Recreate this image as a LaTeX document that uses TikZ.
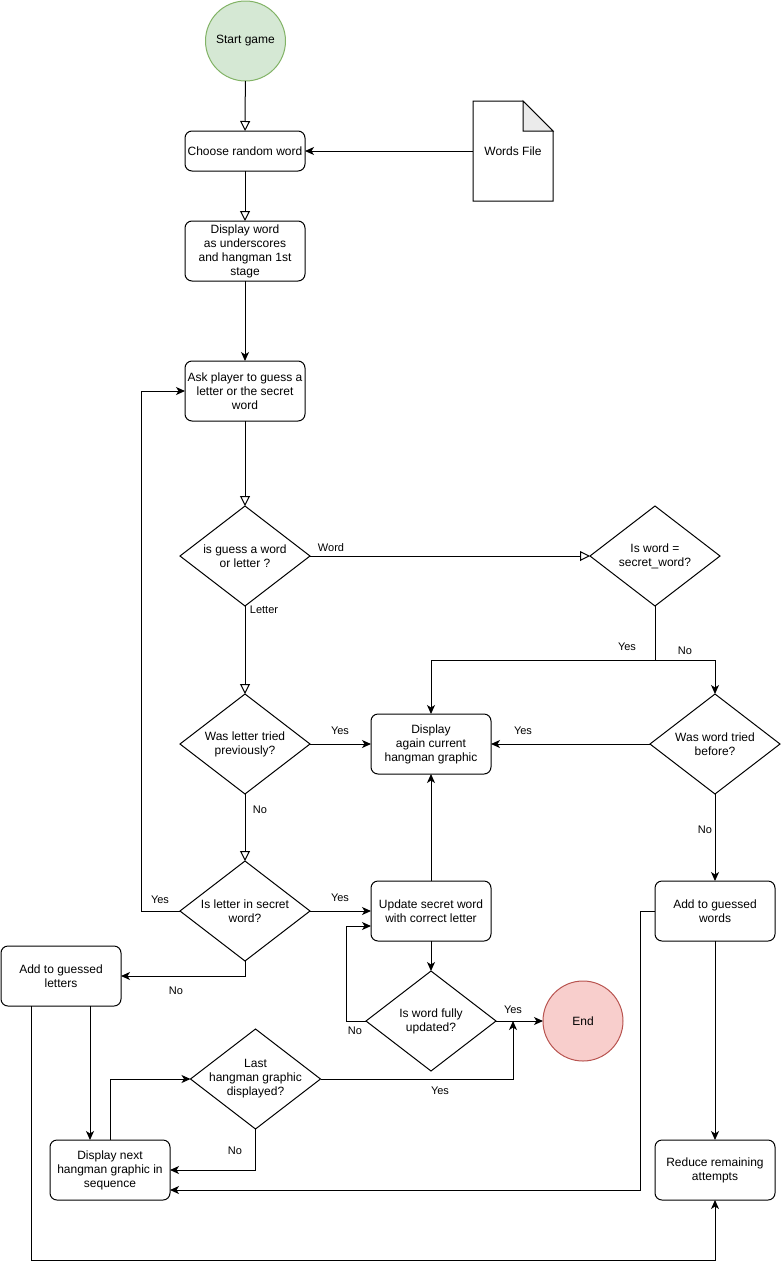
\documentclass[tikz,border=0pt]{standalone}
\usepackage{fontspec}
\setmainfont{Liberation Sans}
\usetikzlibrary{arrows.meta}
\definecolor{startfill}{HTML}{D5E8D4}
\definecolor{startdraw}{HTML}{82B366}
\definecolor{endfill}{HTML}{F8CECC}
\definecolor{enddraw}{HTML}{B85450}
\definecolor{foldfill}{HTML}{EBEBEB}
\begin{document}
\begin{tikzpicture}[x=1pt,y=-1pt,
  every node/.style={font=\fontsize{12}{14}\selectfont, inner sep=1pt},
  process/.style={draw, line width=1pt, rounded corners=7pt, minimum width=120pt,
    minimum height=60pt, align=center, outer sep=0pt},
  decision/.style={rectangle, minimum width=130pt, minimum height=100pt,
    align=center, outer sep=0pt},
  docbox/.style={rectangle, minimum width=80pt, minimum height=100pt, outer sep=0pt},
  startnode/.style={circle, draw=startdraw, fill=startfill, line width=1pt,
    minimum size=80pt, outer sep=0pt},
  endnode/.style={circle, draw=enddraw, fill=endfill, line width=1pt,
    minimum size=80pt, outer sep=0pt},
  lbl/.style={font=\fontsize{11}{13}\selectfont, inner sep=0pt},
  line/.style={line width=1pt},
  flow/.style={line width=1pt, -{Stealth[length=9pt,width=8pt,inset=2.5pt]}},
  openflow/.style={line width=1pt, -{Triangle[open,length=10pt,width=10pt]}}
]
\useasboundingbox (0,0) rectangle (781,1269);

% ---- nodes ----
\node[startnode] (start) at (245.5,41) {Start game};
\node[process, minimum height=40pt] (choose) at (245,151) {Choose random word};
\node[docbox] (file) at (513,151) {Words File};
\node[process] (show) at (245,251) {Display word\\as underscores\\and hangman 1st\\stage};
\node[process] (ask) at (245,391) {Ask player to guess a\\letter or the secret\\word};
\node[decision] (d1) at (245,556) {is guess a word\\or letter ?};
\node[decision] (d2) at (655,556) {Is word =\\secret\_word?};
\node[decision] (d3) at (245,744) {Was letter tried\\previously?};
\node[process] (again) at (431,744) {Display\\again current\\hangman graphic};
\node[decision] (d4) at (715,744) {Was word tried\\before?};
\node[decision] (d5) at (245,911) {Is letter in secret\\word?};
\node[process] (upd) at (431,911) {Update secret word\\with correct letter};
\node[process] (words) at (715,911) {Add to guessed\\words};
\node[process] (letters) at (61,976) {Add to guessed\\letters};
\node[decision] (d6) at (431,1021) {Is word fully\\updated?};
\node[endnode] (end) at (583,1021) {End};
\node[decision] (d7) at (255.5,1079) {Last\\hangman graphic\\displayed?};
\node[process] (next) at (110,1170) {Display next\\hangman graphic in\\sequence};
\node[process] (reduce) at (715,1170) {Reduce remaining\\attempts};

% document outline with folded corner
\draw[line] (file.north west) -- ([xshift=-30pt]file.north east)
  -- ([yshift=-30pt]file.north east) -- (file.south east) -- (file.south west) -- cycle;
\draw[line, fill=foldfill] ([xshift=-30pt]file.north east)
  -- ([xshift=-30pt,yshift=-30pt]file.north east) -- ([yshift=-30pt]file.north east) -- cycle;

% decision diamonds
\foreach \n in {d1,d2,d3,d4,d5,d6,d7}
  \draw[line] (\n.north) -- (\n.east) -- (\n.south) -- (\n.west) -- cycle;

% ---- connectors ----
\draw[openflow] (start) -- (choose);
\draw[flow] (file.west) -- (choose.east);
\draw[openflow] (choose) -- (show);
\draw[flow] (show) -- (ask);
\draw[openflow] (ask) -- (d1.north);
\draw[openflow] (d1.east) -- (d2.west);
\draw[openflow] (d1.south) -- (d3.north);
\draw[line] (d2.south) -- ++(0,54) coordinate (split);
\draw[flow] (split) -| (again.north);
\draw[flow] (split) -| (d4.north);
\draw[flow] (d3.east) -- (again.west);
\draw[flow] (d4.west) -- (again.east);
\draw[openflow] (d3.south) -- (d5.north);
\draw[flow] (d4.south) -- (words.north);
\draw[flow] (d5.east) -- (upd.west);
\draw[flow] (d5.west) -- ++(-39,0) |- (ask.west);
\draw[flow] (d5.south) |- (letters.east);
\draw[flow] (upd.north) -- (again.south);
\draw[flow] (upd.south) -- (d6.north);
\draw[flow] (d6.east) -- (end.west);
\draw[flow] (d6.west) -- ++(-20,0) |- ([yshift=-15pt]upd.west);
\coordinate (join) at (513,1021);
\draw[flow] (d7.east) -| (join);
\draw[flow] ([xshift=29pt]letters.south) -- ([xshift=-20pt]next.north);
\draw[flow] ([xshift=-30pt]letters.south) -- ++(0,254) -| (reduce.south);
\draw[flow] (next.north) |- (d7.west);
\draw[flow] (d7.south) |- (next.east);
\draw[flow] (words.west) -- ++(-15,0) |- ([yshift=-20pt]next.east);
\draw[flow] (words.south) -- (reduce.north);

% ---- connector labels ----
\node[lbl] (lword) at (331,548) {Word};
\node[lbl] (lletter) at (264,610) {Letter};
\node[lbl] (ly1) at (340,731) {Yes};
\node[lbl] (ly2) at (627,647) {Yes};
\node[lbl] (ln1) at (685,651) {No};
\node[lbl] (ly3) at (523,731) {Yes};
\node[lbl] (ln2) at (260,810) {No};
\node[lbl] (ln3) at (705,830) {No};
\node[lbl] (ly4) at (160,900) {Yes};
\node[lbl] (ly5) at (340,898) {Yes};
\node[lbl] (ln4) at (176,991) {No};
\node[lbl] (ln5) at (355,1031) {No};
\node[lbl] (ly6) at (513,1010) {Yes};
\node[lbl] (ly7) at (440,1091) {Yes};
\node[lbl] (ln6) at (235,1151) {No};
\end{tikzpicture}
\end{document}
